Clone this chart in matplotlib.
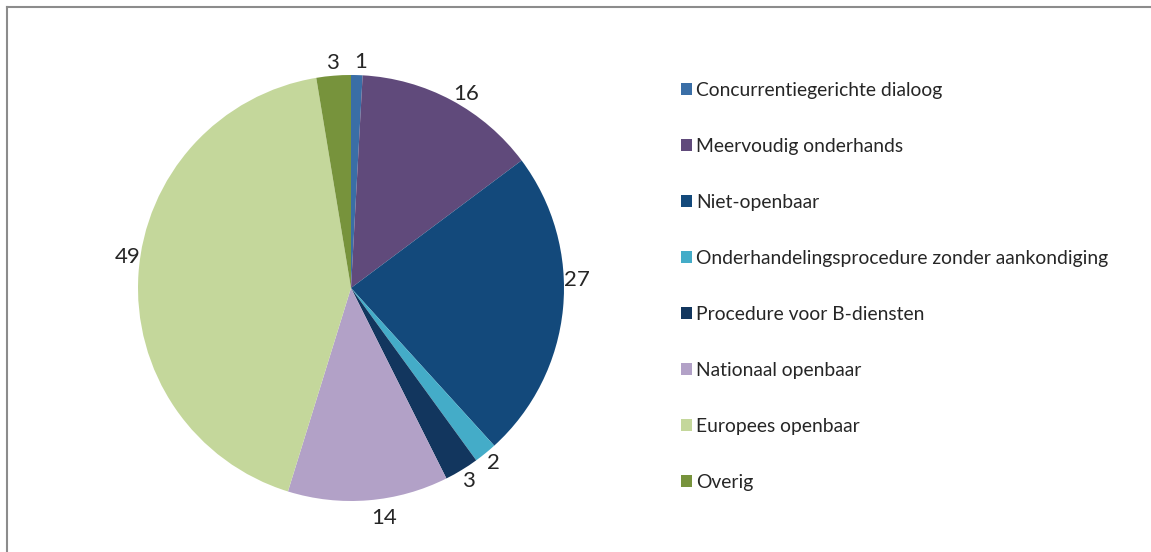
import matplotlib.pyplot as plt
import numpy as np
from matplotlib.patches import Patch

plt.rcParams['font.family'] = ['Lato', 'DejaVu Sans']

# --- Data ---
categories = [
    "Concurrentiegerichte dialoog",
    "Meervoudig onderhands",
    "Niet-openbaar",
    "Onderhandelingsprocedure zonder aankondiging",
    "Procedure voor B-diensten",
    "Nationaal openbaar",
    "Europees openbaar",
    "Overig",
]
values = [1, 16, 27, 2, 3, 14, 49, 3]
colors = ["#3A6EA6", "#604A7B", "#13497B", "#44ACC8",
          "#12365E", "#B2A1C7", "#C4D79B", "#77933C"]
# small angular nudges (deg, counter-clockwise) for the data labels
label_nudge = [-1, -2.5, 7.5, 0, 0, 3.5, -4, 0]

W, H = 1151, 552
fig = plt.figure(figsize=(W / 100, H / 100), dpi=100)

# pie axes: centre (351, 288) px, radius 213 px
cx, cy, r = 351, 288, 213
ax = fig.add_axes([(cx - r) / W, (H - cy - r) / H, 2 * r / W, 2 * r / H])
wedges, _ = ax.pie(values, colors=colors, startangle=90, counterclock=False,
                   radius=1.0, wedgeprops=dict(linewidth=0))
ax.set_xlim(-1, 1)
ax.set_ylim(-1, 1)
ax.set_aspect('equal')
ax.axis('off')

# data labels just outside the wedges
for w, v, nd in zip(wedges, values, label_nudge):
    ang = np.deg2rad((w.theta1 + w.theta2) / 2 + nd)
    d = 1.06 + (0.03 if np.sin(ang) < -0.95 else 0.0)
    ax.text(d * np.cos(ang), d * np.sin(ang), str(v), ha='center',
            va='center', fontsize=16, color='#262626', clip_on=False)

# legend
handles = [Patch(facecolor=c, edgecolor='none') for c in colors]
fig.legend(handles, categories, loc='upper left',
           bbox_to_anchor=(681 / W, 1 - 82 / H), frameon=False,
           fontsize=13.9, labelcolor='#262626', handlelength=0.56,
           handleheight=0.56, handletextpad=0.22, labelspacing=2.02,
           borderaxespad=0, borderpad=0)

# chart frame (only top and left edges visible in crop)
fig.add_artist(plt.Line2D([7 / W, 1], [1 - 7 / H, 1 - 7 / H],
                          transform=fig.transFigure, color='#8C8C8C', lw=1.5))
fig.add_artist(plt.Line2D([7 / W, 7 / W], [0, 1 - 7 / H],
                          transform=fig.transFigure, color='#8C8C8C', lw=1.5))

fig.savefig("out.png", dpi=100, facecolor='white')
